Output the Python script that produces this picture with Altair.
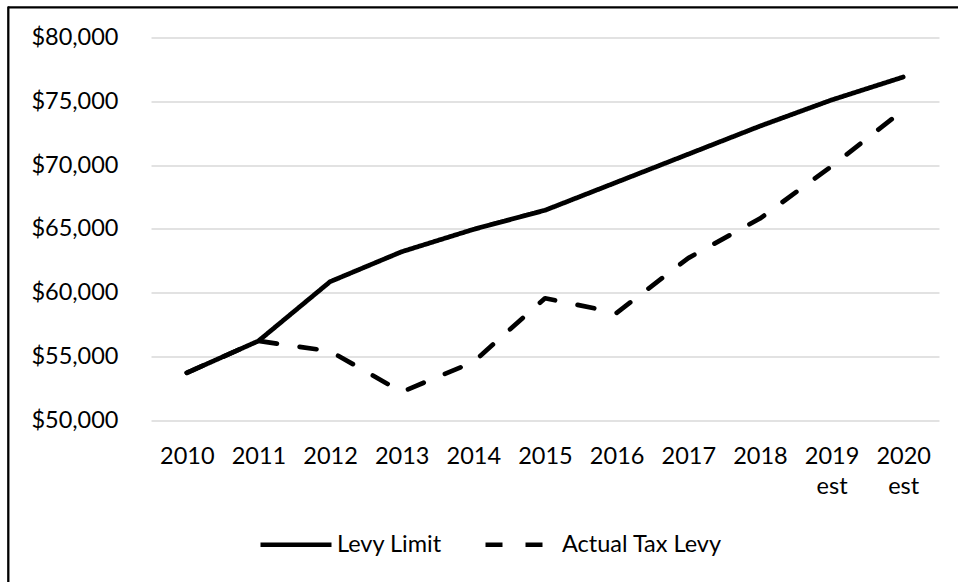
import altair as alt
import pandas as pd

years = ["2010", "2011", "2012", "2013", "2014", "2015", "2016", "2017", "2018", "2019 est", "2020 est"]
levy_limit = [53700, 56200, 60850, 63200, 64950, 66450, 68650, 70850, 73050, 75100, 76900]
actual_levy = [53700, 56200, 55400, 52200, 54550, 59550, 58400, 62700, 65800, 69900, 74300]
series_names = ["Levy Limit", "Actual Tax Levy"]
y_ticks = [50000, 55000, 60000, 65000, 70000, 75000, 80000]

rows = []
for name, vals in zip(series_names, [levy_limit, actual_levy]):
    for yr, v in zip(years, vals):
        rows.append({"year": yr, "value": v, "series": name})
df = pd.DataFrame(rows)

FONT = "Lato"
FS = 23.5

lines = alt.Chart(df).mark_line(
    color="black", strokeWidth=4.7, strokeCap="round", strokeJoin="round"
).encode(
    x=alt.X("year:N", sort=years, scale=alt.Scale(type="point", padding=0.5),
            axis=alt.Axis(title=None, labelAngle=0, ticks=False, domain=False, grid=False,
                          labelExpr="split(datum.label, ' ')", labelBaseline="top",
                          labelPadding=24, labelLineHeight=30,
                          labelFont=FONT, labelFontSize=FS, labelColor="black")),
    y=alt.Y("value:Q", scale=alt.Scale(domain=[50000, 80000], nice=False, zero=False),
            axis=alt.Axis(title=None, values=y_ticks, format="$,.0f", ticks=False, domain=False,
                          labelPadding=33, labelFont=FONT, labelFontSize=FS, labelColor="black",
                          gridColor="#d9d9d9", gridWidth=1.3)),
    strokeDash=alt.StrokeDash("series:N",
        scale=alt.Scale(domain=series_names, range=[[1, 0], [17, 23]]),
        legend=alt.Legend(orient="none", legendX=107, legendY=469, direction="horizontal",
                          title=None, symbolType="stroke", symbolSize=5041,
                          symbolStrokeWidth=4.7, symbolStrokeColor="black",
                          labelFont=FONT, labelFontSize=FS, labelColor="black",
                          labelOffset=3, columnPadding=34, padding=0)),
)

frame_df = pd.DataFrame({"k": [0]})
top_border = alt.Chart(frame_df).mark_rule(color="black", strokeWidth=2.3).encode(
    x=alt.value(-143), x2=alt.value(900), y=alt.value(-30.2)
)
left_border = alt.Chart(frame_df).mark_rule(color="black", strokeWidth=2.3).encode(
    x=alt.value(-142.7), y=alt.value(-31), y2=alt.value(600)
)

chart = alt.layer(lines, top_border, left_border).properties(
    width=788, height=382.5,
    autosize=alt.AutoSizeParams(type="none"),
    padding={"left": 151, "top": 37.5, "right": 19, "bottom": 162},
    background="white",
).configure_view(stroke=None)

chart.save("out.html", embed_options={"renderer": "svg", "actions": False})
